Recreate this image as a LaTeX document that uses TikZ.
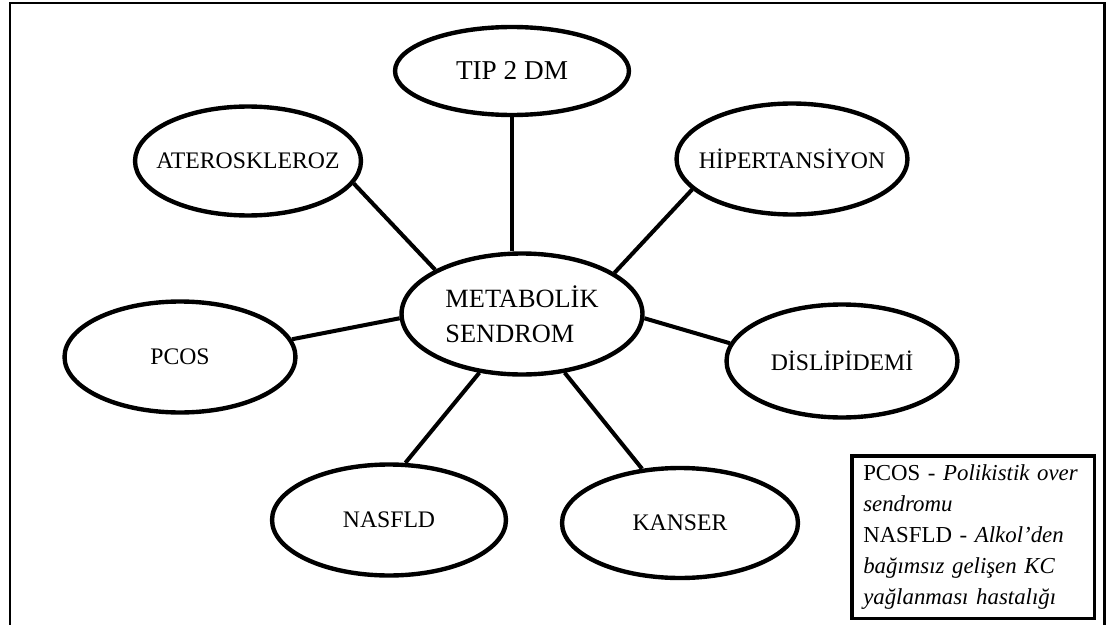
\documentclass[tikz,border=0pt]{standalone}
\usepackage{fontspec}
\setmainfont{Liberation Serif}
\usetikzlibrary{shapes.geometric}
\begin{document}
\begin{tikzpicture}[x=0.02cm,y=-0.02cm,
        oval/.style={draw,ellipse,line width=2.5pt,inner xsep=-2cm,inner ysep=0pt,font=\fontsize{13.5}{16}\selectfont},
        spoke/.style={line width=2.3pt}]
    \useasboundingbox (0,0) rectangle (1112,625);
    % frame
    \draw[line width=1.7pt] (10,625)--(10,3)--(1104,3)--(1104,625);
    % centre
    \node[oval,inner xsep=0pt,minimum width=4.82cm,minimum height=2.42cm,align=left,font=\fontsize{15}{19.9}\selectfont] (ms) at (522,314) {METABOLİK\\SENDROM};
    % outer ovals
    \node[oval,minimum width=4.68cm,minimum height=1.76cm,font=\fontsize{15.5}{18}\selectfont] (tip) at (512,71) {TIP 2 DM};
    \node[oval,minimum width=4.52cm,minimum height=2.18cm] (ater) at (248,161) {ATEROSKLEROZ};
    \node[oval,minimum width=4.62cm,minimum height=2.22cm] (hiper) at (792,159) {HİPERTANSİYON};
    \node[oval,minimum width=4.62cm,minimum height=2.22cm] (pcos) at (180,357) {PCOS};
    \node[oval,minimum width=4.62cm,minimum height=2.26cm] (dis) at (842,361) {DİSLİPİDEMİ};
    \node[oval,minimum width=4.68cm,minimum height=2.22cm] (nas) at (389,520) {NASFLD};
    \node[oval,minimum width=4.72cm,minimum height=2.2cm] (kan) at (680,523) {KANSER};
    % spokes
    \draw[spoke] (tip.south) -- (tip.south |- ms.north);
    \draw[spoke] (ater.-12) -- (ms.153);
    \draw[spoke] (hiper.197) -- (ms.24);
    \draw[spoke] (pcos.9) -- (ms.182);
    \draw[spoke] (dis.171) -- (ms.-2);
    \draw[spoke] (nas.74) -- (ms.234);
    \draw[spoke] (kan.125) -- (ms.-54);
    % legend
    \node[draw,line width=2pt,anchor=north west,minimum width=4.86cm,minimum height=3.26cm,text width=4.4cm,inner xsep=0.2cm,align=left,font=\fontsize{13}{17.6}\selectfont] (legend) at (850,454)
        {PCOS - \textit{Polikistik over}\\ \textit{sendromu}\\ NASFLD - \textit{Alkol'den}\\ \textit{bağımsız gelişen KC}\\ \textit{yağlanması hastalığı}};
\end{tikzpicture}
\end{document}
